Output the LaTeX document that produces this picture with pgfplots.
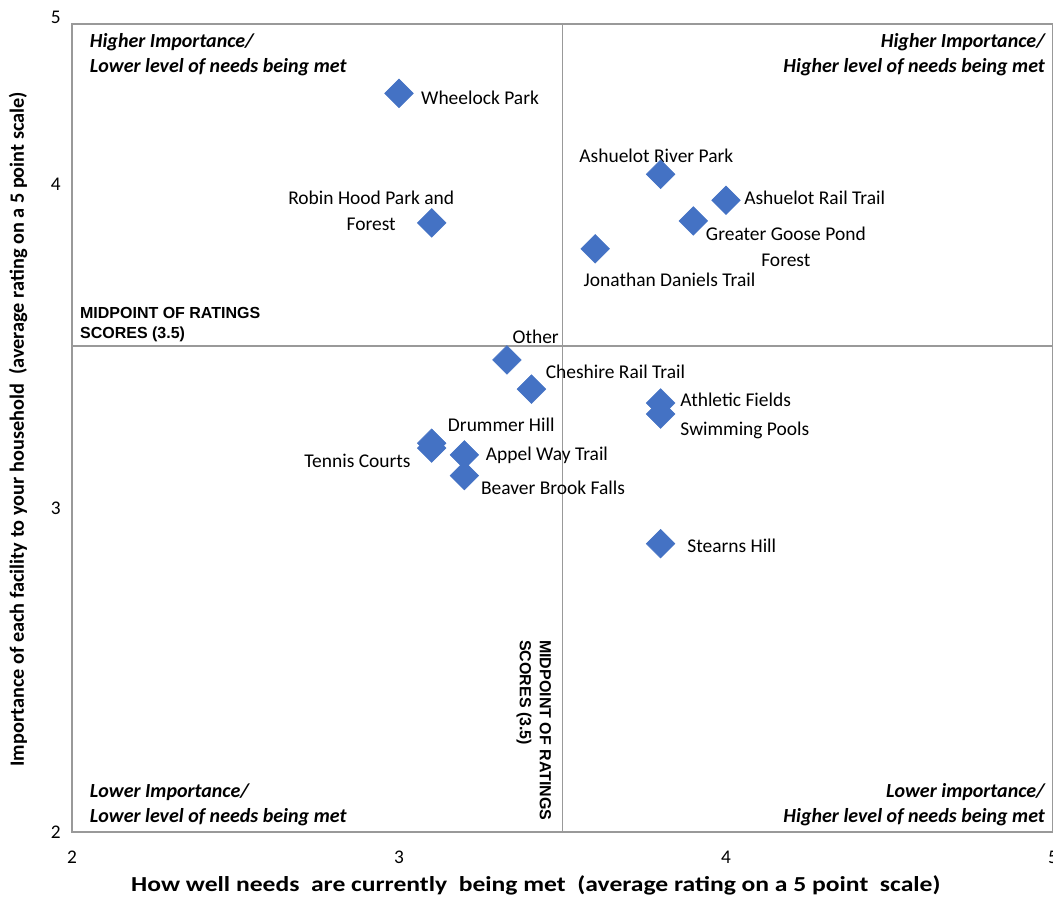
\documentclass[border=0pt]{standalone}
\usepackage{pgfplots}
\pgfplotsset{compat=1.18}
\usepackage{pgfplotstable}
\usepackage{fontspec}
\setmainfont{Carlito}
\newfontfamily\arialf{Liberation Sans}
\newfontfamily\xlabfont[FakeStretch=1.2]{Carlito}
\definecolor{mblue}{HTML}{4472C4}
\definecolor{boxgray}{HTML}{999999}

\pgfplotstableread{
x y
3.00 4.28
3.10 3.88
3.80 4.03
4.00 3.95
3.90 3.886
3.60 3.80
3.33 3.457
3.405 3.367
3.80 3.324
3.80 3.29
3.10 3.20
3.10 3.185
3.20 3.164
3.20 3.10
3.80 2.89
}\pts

\begin{document}
\begin{tikzpicture}
\begin{axis}[
  scale only axis,
  width=735.75pt, height=606pt,
  xmin=2, xmax=5, ymin=2, ymax=4.494,
  xtick={2,3,4,5}, xticklabels={2,3,4,5},
  ytick={2,3,4}, yticklabels={2,3,4},
  extra y ticks={4.494}, extra y tick labels={5},
  tick style={draw=none},
  axis line style={boxgray, line width=1.2pt},
  /pgf/number format/assume math mode=true,
  tick label style={font=\normalfont\fontsize{14.5}{17}\selectfont},
  xticklabel style={yshift=-11pt},
  yticklabel style={xshift=-5pt},
  extra y tick style={yticklabel style={yshift=5pt}},
  xlabel={\bfseries How well needs~ are currently~ being met~ (average rating on a 5 point~ scale)},
  ylabel={\bfseries Importance of each facility to your household~ (average rating on a 5 point scale)},
  every axis x label/.style={at={(rel axis cs:0.5,0)}, yshift=-39.75pt, xshift=-20pt, anchor=center,
    font=\xlabfont\fontsize{16}{18}\selectfont},
  every axis y label/.style={at={(rel axis cs:0,0.5)}, xshift=-40.5pt, yshift=-1pt, anchor=center, rotate=90,
    font=\fontsize{15.2}{17}\selectfont},
  clip=false,
]
\draw[boxgray, line width=1.1pt] (axis cs:3.5,2) -- (axis cs:3.5,4.494);
\draw[boxgray, line width=1.1pt] (axis cs:2,3.5) -- (axis cs:5,3.5);

\addplot[only marks, mark=square*, mark size=7.6pt,
  mark options={rotate=45, fill=mblue, draw=mblue}] table {\pts};

\begin{scope}[every node/.style={inner sep=0pt, font=\fontsize{14.6}{19}\selectfont}]
\node[anchor=west] at (axis cs:3.067,4.265) {Wheelock Park};
\node[align=center] at (axis cs:2.915,3.917) {Robin Hood Park and\\Forest};
\node at (axis cs:3.787,4.086) {Ashuelot River Park};
\node[anchor=west] at (axis cs:4.055,3.957) {Ashuelot Rail Trail};
\node[align=center] at (axis cs:4.183,3.806) {Greater Goose Pond\\Forest};
\node[anchor=west] at (axis cs:3.564,3.704) {Jonathan Daniels Trail};
\node at (axis cs:3.418,3.528) {Other};
\node[anchor=west] at (axis cs:3.448,3.420) {Cheshire Rail Trail};
\node[anchor=west] at (axis cs:3.860,3.333) {Athletic Fields};
\node[anchor=west] at (axis cs:3.860,3.238) {Swimming Pools};
\node[anchor=west] at (axis cs:3.149,3.256) {Drummer Hill};
\node[anchor=west] at (axis cs:2.710,3.145) {Tennis Courts};
\node[anchor=west] at (axis cs:3.265,3.164) {Appel Way Trail};
\node[anchor=west] at (axis cs:3.250,3.062) {Beaver Brook Falls};
\node[anchor=west] at (axis cs:3.881,2.883) {Stearns Hill};
\end{scope}

\begin{scope}[every node/.style={inner sep=0pt, font=\fontsize{15}{19}\selectfont\bfseries\itshape}]
\node[anchor=north west, align=left] at (rel axis cs:0.018,0.989) {Higher Importance/\\Lower level of needs being met};
\node[anchor=north east, align=right] at (rel axis cs:0.992,0.989) {Higher Importance/\\Higher level of needs being met};
\node[anchor=south west, align=left] at (rel axis cs:0.018,0.007) {Lower Importance/\\Lower level of needs being met};
\node[anchor=south east, align=right] at (rel axis cs:0.992,0.007) {Lower importance/\\Higher level of needs being met};
\end{scope}

\begin{scope}[every node/.style={inner sep=0pt, font=\arialf\fontsize{12}{15}\selectfont\bfseries}]
\node[anchor=south west, align=left] at (rel axis cs:0.008,0.606) {MIDPOINT OF RATINGS\\SCORES (3.5)};
\node[anchor=north west, align=left, rotate=-90] at (axis cs:3.466,2.593) {MIDPOINT OF RATINGS\\SCORES (3.5)};
\end{scope}
\end{axis}
\pgfresetboundingbox
\useasboundingbox ([xshift=-54pt,yshift=-50.25pt]current axis.south west) rectangle ([yshift=18pt]current axis.north east);
\end{tikzpicture}
\end{document}
